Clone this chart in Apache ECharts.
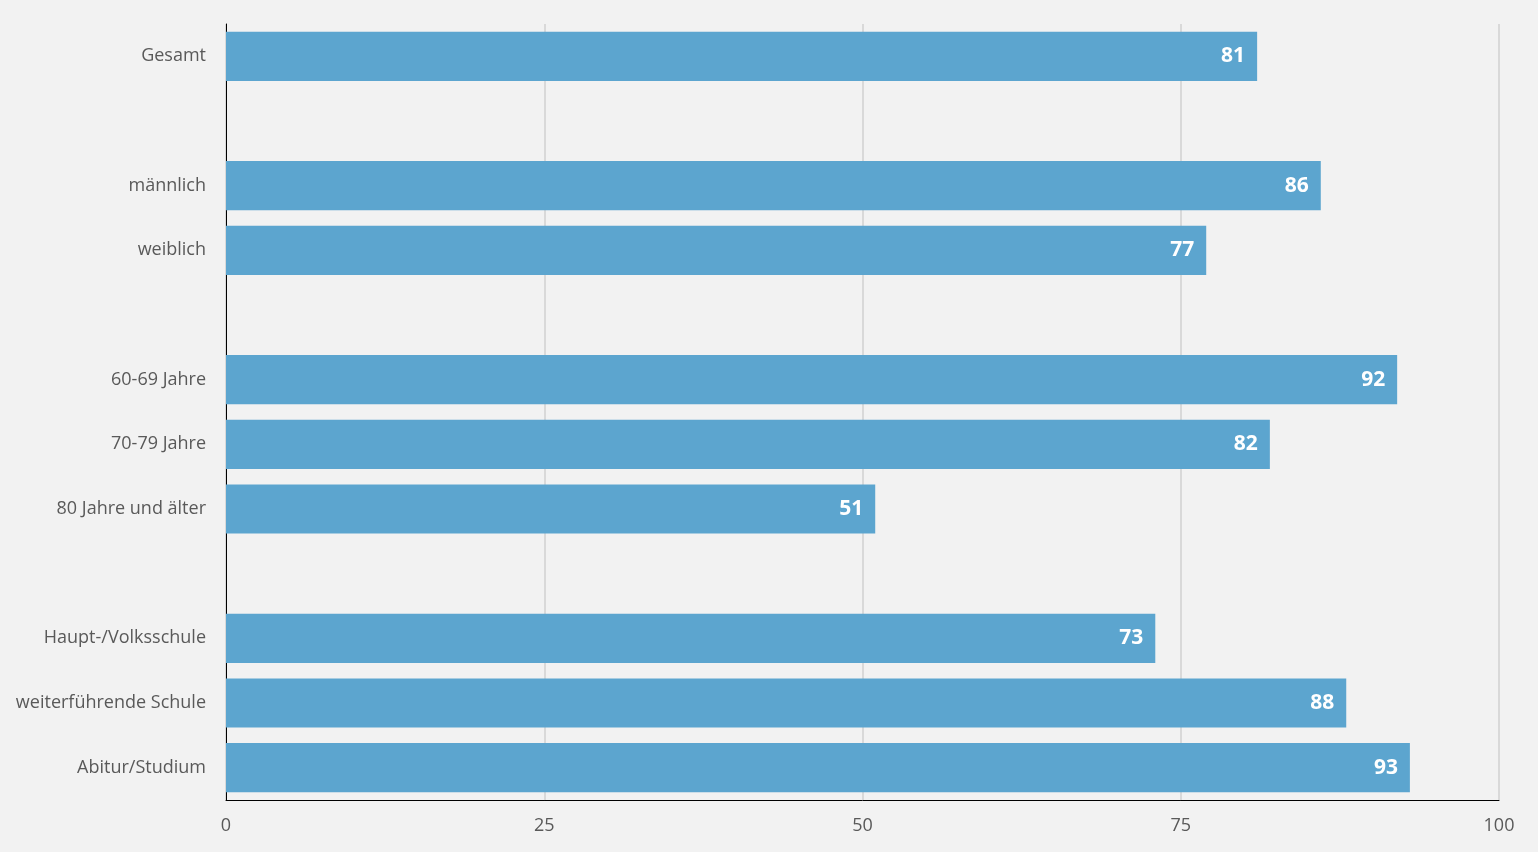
<!DOCTYPE html>
<html>
<head>
<meta charset="utf-8">
<script src="https://cdn.jsdelivr.net/npm/echarts@6/dist/echarts.min.js"></script>
<style>
html,body{margin:0;padding:0;background:#f2f2f2;}
#chart{width:1538px;height:852px;}
</style>
</head>
<body>
<div id="chart"></div>
<script>
const categories = ['Gesamt', '', 'männlich', 'weiblich', ' ', '60-69 Jahre', '70-79 Jahre', '80 Jahre und älter', '  ', 'Haupt-/Volksschule', 'weiterführende Schule', 'Abitur/Studium'];
const values = [81, null, 86, 77, null, 92, 82, 51, null, 73, 88, 93];
const xTicks = [0, 25, 50, 75, 100];

const chart = echarts.init(document.getElementById('chart'));
chart.setOption({
  backgroundColor: '#f2f2f2',
  animation: false,
  grid: {left: 226, right: 39, top: 24, bottom: 52, containLabel: false},
  xAxis: {
    type: 'value', min: xTicks[0], max: xTicks[xTicks.length - 1], interval: 25,
    axisLine: {show: true, lineStyle: {color: '#000', width: 1}},
    axisTick: {show: false},
    splitLine: {show: true, lineStyle: {color: '#d9d9d9', width: 2}},
    axisLabel: {color: '#595959', fontFamily: 'Open Sans', fontSize: 18, margin: 17}
  },
  yAxis: {
    type: 'category', data: categories, inverse: true,
    axisLine: {show: true, lineStyle: {color: '#000', width: 1}},
    axisTick: {show: false},
    axisLabel: {color: '#595959', fontFamily: 'Open Sans', fontSize: 18, margin: 20}
  },
  series: [{
    type: 'bar', data: values, barCategoryGap: '24%',
    itemStyle: {color: '#5ca5cf'},
    label: {show: true, position: 'insideRight', distance: 12, color: '#fff', fontWeight: 'bold', fontFamily: 'Open Sans', fontSize: 21}
  }]
});
</script>
</body>
</html>
